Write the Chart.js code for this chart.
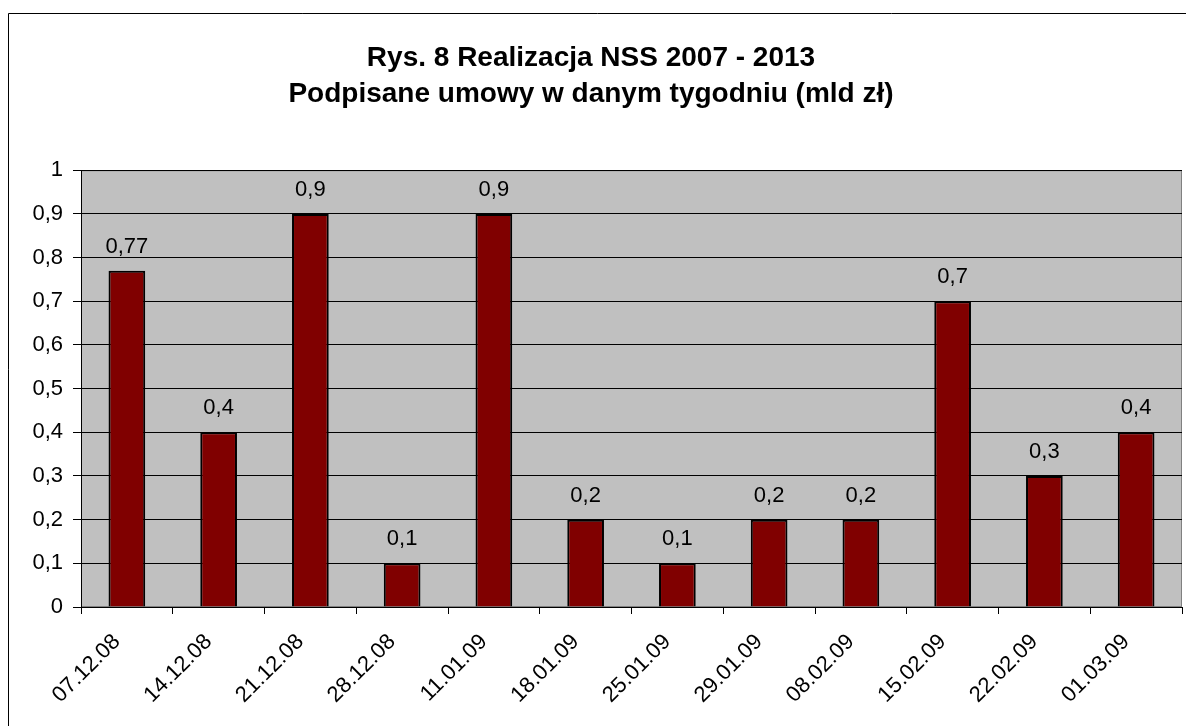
<!DOCTYPE html>
<html>
<head>
<meta charset="utf-8">
<script src="https://cdn.jsdelivr.net/npm/chart.js@4.4.1/dist/chart.umd.min.js"></script>
<style>
  body { margin: 0; background: #fff; }
  canvas { display: block; }
</style>
</head>
<body>
<canvas id="chart" width="1186" height="726"></canvas>
<script>
const weeks = ["07.12.08", "14.12.08", "21.12.08", "28.12.08", "11.01.09", "18.01.09",
	"25.01.09", "29.01.09", "08.02.09", "15.02.09", "22.02.09", "01.03.09"];
const signedValues = [0.77, 0.4, 0.9, 0.1, 0.9, 0.2, 0.1, 0.2, 0.2, 0.7, 0.3, 0.4];
const titleLines = ["Rys. 8 Realizacja NSS 2007 - 2013", "Podpisane umowy w danym tygodniu (mld zł)"];

const FONT = "'Liberation Sans', Arial, sans-serif";

function plNumber(v) {
	return String(Math.round(v * 100) / 100).replace(".", ",");
}

// white page, outer frame and grey plot area
const backdrop = {
	id: "backdrop",
	beforeDraw(chart) {
		let ctx = chart.ctx;
		let a = chart.chartArea;
		ctx.save();
		ctx.fillStyle = "#fff";
		ctx.fillRect(0, 0, chart.width, chart.height);
		ctx.strokeStyle = "#000";
		ctx.lineWidth = 1;
		ctx.beginPath();
		ctx.moveTo(8.5, chart.height);
		ctx.lineTo(8.5, 13.5);
		ctx.lineTo(chart.width, 13.5);
		ctx.stroke();
		ctx.fillStyle = "#c0c0c0";
		ctx.fillRect(a.left, a.top, a.right - a.left, a.bottom - a.top);
		ctx.strokeStyle = "#808080";
		ctx.strokeRect(a.left + 0.5, a.top + 0.5, a.right - a.left - 1, a.bottom - a.top - 1);
		ctx.restore();
	}
};

// value labels above the bars
const valueLabels = {
	id: "valueLabels",
	afterDatasetsDraw(chart) {
		let ctx = chart.ctx;
		let meta = chart.getDatasetMeta(0);
		ctx.save();
		ctx.fillStyle = "#000";
		ctx.font = "22px " + FONT;
		ctx.textAlign = "center";
		ctx.textBaseline = "alphabetic";
		meta.data.forEach((bar, i) => {
			ctx.fillText(plNumber(signedValues[i]), bar.x, bar.y - 18);
		});
		ctx.restore();
	}
};

new Chart(document.getElementById("chart"), {
	type: "bar",
	data: {
		labels: weeks,
		datasets: [{
			data: signedValues,
			backgroundColor: "#800000",
			borderColor: "#000",
			borderWidth: 2,
			barPercentage: 0.4,
			categoryPercentage: 1
		}]
	},
	options: {
		responsive: false,
		animation: false,
		layout: { padding: { top: 0, right: 4, bottom: 0, left: 0 } },
		plugins: {
			legend: { display: false },
			tooltip: { enabled: false },
			title: {
				display: true,
				text: titleLines,
				color: "#000",
				font: { family: FONT, size: 28, weight: "bold", lineHeight: 1.29 },
				padding: { top: 40, bottom: 58 }
			}
		},
		scales: {
			x: {
				afterFit(scale) { scale.height = 119; },
				grid: {
					offset: true,
					drawOnChartArea: false,
					color: "#000",
					tickLength: 7
				},
				border: { color: "#000" },
				ticks: {
					color: "#000",
					font: { family: FONT, size: 22 },
					minRotation: 45,
					maxRotation: 45,
					padding: 15,
					labelOffset: -10
				}
			},
			y: {
				min: 0,
				max: 1,
				afterFit(scale) { scale.width = 81; },
				grid: {
					color: "#000",
					tickLength: 8
				},
				border: { color: "#000" },
				ticks: {
					stepSize: 0.1,
					color: "#000",
					font: { family: FONT, size: 22 },
					padding: 10,
					callback: (v) => plNumber(v)
				}
			}
		}
	},
	plugins: [backdrop, valueLabels]
});
</script>
</body>
</html>
